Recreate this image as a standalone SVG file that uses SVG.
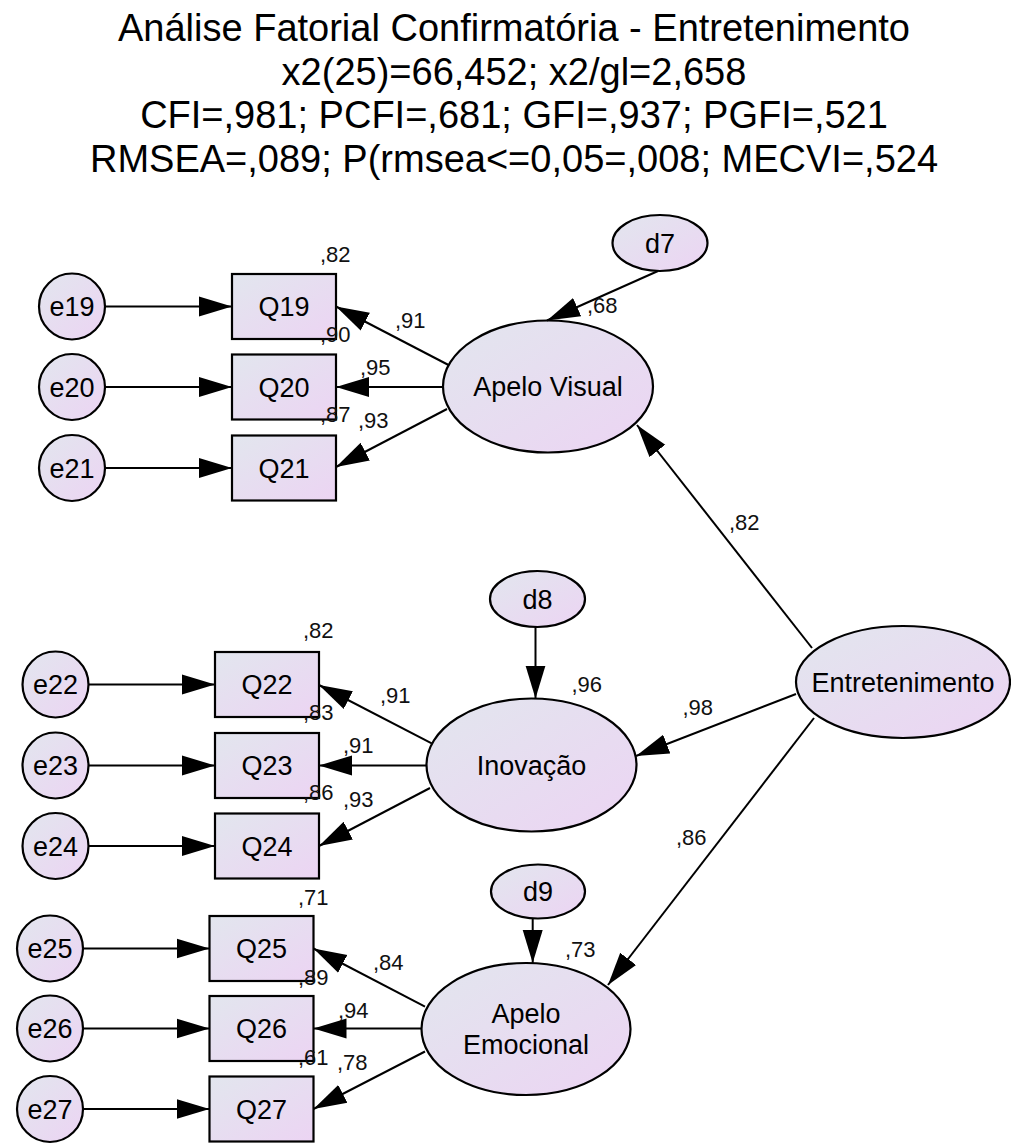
<svg xmlns="http://www.w3.org/2000/svg" width="1011" height="1144" viewBox="0 0 1011 1144">
<defs>
<linearGradient id="g" x1="0" y1="0" x2="1" y2="1">
<stop offset="0" stop-color="#e2e6ee"/>
<stop offset="1" stop-color="#ecd4f3"/>
</linearGradient>
<marker id="ah" markerUnits="userSpaceOnUse" markerWidth="34" markerHeight="22" refX="33" refY="10" orient="auto" viewBox="0 0 34 20">
<path d="M0,0 L33,10 L0,20 z" fill="#000"/>
</marker>
</defs>
<style>
.n{fill:url(#g);stroke:#000;stroke-width:2.2}
.t{font-family:"Liberation Sans",Arial,sans-serif;font-size:27px;fill:#000;text-anchor:middle}
.l{font-family:"Liberation Sans",Arial,sans-serif;font-size:22px;fill:#111}
.ti{font-family:"Liberation Sans",Arial,sans-serif;font-size:38px;fill:#000;text-anchor:middle}
.c line{stroke:#000;stroke-width:2;marker-end:url(#ah)}
</style>
<rect width="1011" height="1144" fill="#fff"/>
<g id="title">
<text class="ti" x="514" y="41">Análise Fatorial Confirmatória - Entretenimento</text>
<text class="ti" x="514" y="84.5">x2(25)=66,452; x2/gl=2,658</text>
<text class="ti" x="514" y="128">CFI=,981; PCFI=,681; GFI=,937; PGFI=,521</text>
<text class="ti" x="514" y="171.5">RMSEA=,089; P(rmsea&lt;=0,05=,008; MECVI=,524</text>
</g>
<g id="e19"><circle class="n" cx="72" cy="306.5" r="33"/><text class="t" x="72" y="316">e19</text></g>
<g id="e20"><circle class="n" cx="72" cy="387" r="33"/><text class="t" x="72" y="396.5">e20</text></g>
<g id="e21"><circle class="n" cx="72" cy="468" r="33"/><text class="t" x="72" y="477.5">e21</text></g>
<g id="Q19"><rect class="n" x="232" y="274" width="104" height="65"/><text class="t" x="284" y="316">Q19</text></g>
<g id="Q20"><rect class="n" x="232" y="354.5" width="104" height="65"/><text class="t" x="284" y="396.5">Q20</text></g>
<g id="Q21"><rect class="n" x="232" y="435.5" width="104" height="65"/><text class="t" x="284" y="477.5">Q21</text></g>
<g id="e22"><circle class="n" cx="55.5" cy="684.5" r="33"/><text class="t" x="55.5" y="694">e22</text></g>
<g id="e23"><circle class="n" cx="55.5" cy="765.5" r="33"/><text class="t" x="55.5" y="775">e23</text></g>
<g id="e24"><circle class="n" cx="55.5" cy="846" r="33"/><text class="t" x="55.5" y="855.5">e24</text></g>
<g id="Q22"><rect class="n" x="215" y="652" width="104" height="65"/><text class="t" x="267" y="694">Q22</text></g>
<g id="Q23"><rect class="n" x="215" y="733" width="104" height="65"/><text class="t" x="267" y="775">Q23</text></g>
<g id="Q24"><rect class="n" x="215" y="813.5" width="104" height="65"/><text class="t" x="267" y="855.5">Q24</text></g>
<g id="e25"><circle class="n" cx="50" cy="948.5" r="33"/><text class="t" x="50" y="958">e25</text></g>
<g id="e26"><circle class="n" cx="50" cy="1028.5" r="33"/><text class="t" x="50" y="1038">e26</text></g>
<g id="e27"><circle class="n" cx="50" cy="1109" r="33"/><text class="t" x="50" y="1118.5">e27</text></g>
<g id="Q25"><rect class="n" x="209.5" y="916" width="104" height="65"/><text class="t" x="261.5" y="958">Q25</text></g>
<g id="Q26"><rect class="n" x="209.5" y="996" width="104" height="65"/><text class="t" x="261.5" y="1038">Q26</text></g>
<g id="Q27"><rect class="n" x="209.5" y="1076.5" width="104" height="65"/><text class="t" x="261.5" y="1118.5">Q27</text></g>
<g id="ApeloVisual"><ellipse class="n" cx="548" cy="386.5" rx="105" ry="66"/><text class="t" x="548" y="396">Apelo Visual</text></g>
<g id="d7"><ellipse class="n" cx="660" cy="243" rx="47.5" ry="28"/><text class="t" x="660" y="252.5">d7</text></g>
<g id="Inovacao"><ellipse class="n" cx="531.5" cy="765" rx="105" ry="66.5"/><text class="t" x="531.5" y="775">Inovação</text></g>
<g id="d8"><ellipse class="n" cx="537.5" cy="599" rx="47.5" ry="28"/><text class="t" x="537.5" y="608.5">d8</text></g>
<g id="ApeloEmocional"><ellipse class="n" cx="526" cy="1029" rx="104.5" ry="66"/><text class="t" x="526" y="1022.5">Apelo</text><text class="t" x="526" y="1054">Emocional</text></g>
<g id="d9"><ellipse class="n" cx="538" cy="891.5" rx="47" ry="27"/><text class="t" x="538" y="901">d9</text></g>
<g id="Entretenimento"><ellipse class="n" cx="903" cy="682" rx="107" ry="56"/><text class="t" x="903" y="691.5">Entretenimento</text></g>
<g id="connectors" class="c">
<line x1="105" y1="306.5" x2="232" y2="306.5"/>
<line x1="105" y1="387" x2="232" y2="387"/>
<line x1="105" y1="468" x2="232" y2="468"/>
<line x1="88.5" y1="684.5" x2="215" y2="684.5"/>
<line x1="88.5" y1="765.5" x2="215" y2="765.5"/>
<line x1="88.5" y1="846" x2="215" y2="846"/>
<line x1="83" y1="948.5" x2="209.5" y2="948.5"/>
<line x1="83" y1="1028.5" x2="209.5" y2="1028.5"/>
<line x1="83" y1="1109" x2="209.5" y2="1109"/>
<line x1="448.5" y1="365" x2="336" y2="306.5"/>
<line x1="443" y1="387" x2="336" y2="387"/>
<line x1="447" y1="409" x2="336" y2="467"/>
<line x1="431.7" y1="743.3" x2="319" y2="685"/>
<line x1="426.5" y1="765.5" x2="319" y2="765.5"/>
<line x1="430" y1="788" x2="319" y2="846"/>
<line x1="425" y1="1006.7" x2="313.5" y2="948.5"/>
<line x1="421.5" y1="1028.5" x2="313.5" y2="1028.5"/>
<line x1="425" y1="1051.5" x2="313.5" y2="1109"/>
<line x1="658" y1="271" x2="547" y2="320.5"/>
<line x1="535.5" y1="627" x2="535.5" y2="698.5"/>
<line x1="532.7" y1="918.5" x2="532.7" y2="963"/>
<line x1="812" y1="648" x2="637" y2="425"/>
<line x1="796" y1="694" x2="636" y2="756"/>
<line x1="814" y1="718" x2="608" y2="985"/>
</g>
<g id="labels">
<text class="l" x="320" y="262">,82</text>
<text class="l" x="320" y="342">,90</text>
<text class="l" x="320" y="422">,87</text>
<text class="l" x="395" y="328">,91</text>
<text class="l" x="360" y="375">,95</text>
<text class="l" x="358" y="428">,93</text>
<text class="l" x="587" y="313">,68</text>
<text class="l" x="729" y="530">,82</text>
<text class="l" x="303" y="638">,82</text>
<text class="l" x="303" y="720">,83</text>
<text class="l" x="303" y="800">,86</text>
<text class="l" x="380" y="703">,91</text>
<text class="l" x="343" y="753">,91</text>
<text class="l" x="343" y="807">,93</text>
<text class="l" x="571.5" y="692">,96</text>
<text class="l" x="682.5" y="715">,98</text>
<text class="l" x="676" y="845">,86</text>
<text class="l" x="298" y="905">,71</text>
<text class="l" x="298" y="985">,89</text>
<text class="l" x="298" y="1065">,61</text>
<text class="l" x="373" y="970">,84</text>
<text class="l" x="338" y="1018">,94</text>
<text class="l" x="337" y="1070">,78</text>
<text class="l" x="565" y="957">,73</text>
</g>
</svg>
